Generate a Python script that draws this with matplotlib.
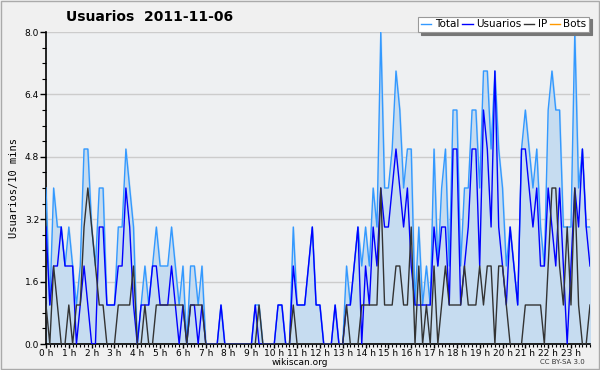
import matplotlib
matplotlib.use("Agg")
import matplotlib.pyplot as plt
import numpy as np
from matplotlib.ticker import MultipleLocator, FixedLocator

title = "Usuarios  2011-11-06"
hours = [f"{h} h" for h in range(24)]

total = [4,1,4,3,3,2,3,2,1,2, 5,5,3,2,4,4,1,1,1,3, 3,5,4,3,0,1,2,1,2,3,
         2,2,2,3,2,1,2,0,2,2, 1,2,0,0,0,0,1,0,0,0, 0,0,0,0,0,1,1,0,0,0,
         0,1,1,0,0,3,1,1,1,2, 3,1,1,0,0,0,1,0,0,2, 1,2,3,2,3,2,4,3,8,4,
         4,5,7,6,4,5,5,1,3,1, 2,1,5,2,4,5,2,6,6,2, 4,4,6,6,4,7,7,5,7,5,
         4,2,3,2,1,5,6,5,4,5, 3,2,6,7,6,6,3,3,3,8, 4,5,3,3]
usuarios = [3,1,2,2,3,2,2,2,0,1, 2,1,0,0,3,3,1,1,1,2, 2,4,3,1,0,1,1,1,2,2,
            1,1,1,2,1,0,1,0,1,1, 0,1,0,0,0,0,1,0,0,0, 0,0,0,0,0,1,0,0,0,0,
            0,1,1,0,0,2,1,1,1,2, 3,1,1,0,0,0,1,0,0,1, 1,2,3,0,2,1,3,2,4,3,
            3,4,5,4,3,4,2,1,1,1, 1,1,3,2,3,3,1,5,5,1, 2,3,5,5,2,6,5,3,7,3,
            2,1,3,2,1,5,5,4,3,4, 2,2,4,3,2,4,2,0,2,4, 3,5,3,2]
ip = [1,0,2,1,0,0,1,0,1,1, 3,4,3,2,1,1,0,0,0,1, 1,1,1,2,0,0,1,0,0,1,
      1,1,1,1,1,1,1,0,1,1, 1,1,0,0,0,0,0,0,0,0, 0,0,0,0,0,0,1,0,0,0,
      0,0,0,0,0,1,0,0,0,0, 0,0,0,0,0,0,0,0,0,1, 0,0,0,1,1,1,1,1,4,1,
      1,1,2,2,1,1,3,0,2,0, 1,0,2,0,1,2,1,1,1,1, 2,1,1,1,2,1,2,2,0,2,
      2,1,0,0,0,0,1,1,1,1, 1,0,2,4,4,2,1,3,1,4, 1,0,0,1]
bots = [0]*144

x = np.arange(len(total))

fig = plt.figure(figsize=(6, 3.7), dpi=100, facecolor="#f0f0f0")
ax = fig.add_axes([46/600, 26/370, 544/600, 312/370])
ax.set_facecolor("#eef0f2")

ax.fill_between(x, total, 0, color="#c6dcf0", zorder=1)
ax.plot(x, total, color="#3399ff", lw=1, label="Total", zorder=3)
ax.plot(x, usuarios, color="#0000ff", lw=1, label="Usuarios", zorder=4)
ax.plot(x, ip, color="#333333", lw=1, label="IP", zorder=5)
ax.plot(x, bots, color="#ff9900", lw=1, label="Bots", zorder=2)

ax.set_xlim(0, 143)
ax.set_ylim(0, 8)
ax.yaxis.set_major_locator(FixedLocator([0, 1.6, 3.2, 4.8, 6.4, 8.0]))
ax.yaxis.set_minor_locator(MultipleLocator(0.4))
ax.set_yticklabels(["0.0", "1.6", "3.2", "4.8", "6.4", "8.0"])
ax.xaxis.set_major_locator(FixedLocator(np.arange(0, 144, 6)))
ax.xaxis.set_minor_locator(FixedLocator(np.arange(0, 144, 1)))
ax.set_xticklabels(hours)
ax.grid(axis="y", which="major", color="#cccccc", lw=1, zorder=0)
ax.set_axisbelow(True)
for s in ["top", "right"]:
    ax.spines[s].set_visible(False)
ax.spines["left"].set_linewidth(1.2)
ax.spines["bottom"].set_linewidth(1.2)
ax.tick_params(axis="y", which="major", labelsize=6.5, length=4, width=1, pad=1, direction="out")
ax.tick_params(axis="x", which="major", labelsize=6.5, length=3, width=1, pad=0.5, direction="out")
ax.tick_params(axis="x", which="minor", length=2.5, width=0.8, direction="out")
ax.tick_params(axis="y", which="minor", length=3, width=0.8, direction="out")

ax.set_ylabel("Usuarios/10 mins", family="DejaVu Sans Mono", fontsize=7.5, labelpad=4)
fig.text(0.5, 0.019, "wikiscan.org", fontsize=6.5, ha="center", va="center")

fig.text(0.25, 0.955, title, fontsize=10, fontweight="bold", ha="center", va="center")
fig.text(0.975, 0.022, "CC BY-SA 3.0", fontsize=5, ha="right", va="center", color="#333333")

leg = fig.legend(loc="upper right", bbox_to_anchor=(0.982, 0.955), ncol=4, fontsize=7.5,
                 frameon=True, fancybox=False, shadow={"color": "#777777", "alpha": 1},
                 handlelength=1.0, handletextpad=0.3, columnspacing=0.3,
                 borderpad=0.25, borderaxespad=0)
leg.get_frame().set_edgecolor("#999999")
leg.get_frame().set_facecolor("white")
leg.get_frame().set_linewidth(0.8)

fig.patches.append(plt.Rectangle((0.002, 0.003), 0.996, 0.994, transform=fig.transFigure,
                                 fill=False, edgecolor="#aaaaaa", lw=1))

fig.savefig("out.png", dpi=100, facecolor=fig.get_facecolor())
